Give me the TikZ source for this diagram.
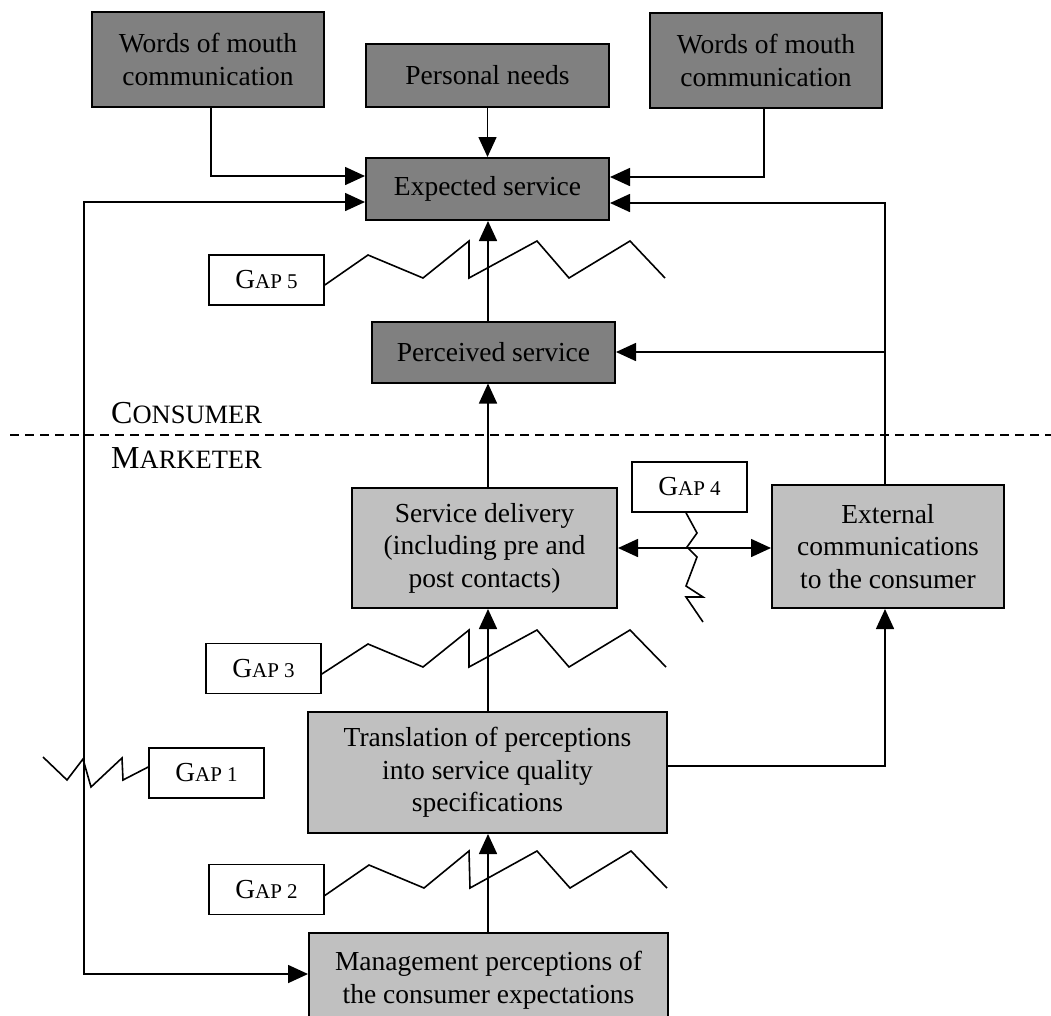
\documentclass[tikz,border=0pt]{standalone}
\usepackage{fontspec}
\setmainfont{Liberation Serif}
\usetikzlibrary{arrows.meta}
\definecolor{darkbox}{RGB}{128,128,128}
\definecolor{lightbox}{RGB}{192,192,192}
\newcommand{\gaplabel}[1]{{\fontsize{27.5}{30}\selectfont G}{\fontsize{21}{24}\selectfont AP #1}}
\newcommand{\bigsc}[2]{{\fontsize{32}{34}\selectfont #1}{\fontsize{26.5}{30}\selectfont #2}}
\begin{document}
\begin{tikzpicture}[x=1pt,y=-1pt,
 box/.style={draw, line width=2pt, align=center, inner sep=2pt, font=\fontsize{27.5}{32.5}\selectfont},
 dbox/.style={box, fill=darkbox},
 lbox/.style={box, fill=lightbox},
 gbox/.style={draw, line width=1.6pt, fill=white, minimum width=115pt, minimum height=50pt, inner sep=0pt},
 conn/.style={line width=1.6pt},
 arr/.style={conn, -{Triangle[length=20pt,width=18pt]}},
 darr/.style={conn, {Triangle[length=20pt,width=18pt]}-{Triangle[length=20pt,width=18pt]}},
 zig/.style={line width=1.6pt, line join=miter},
 sclabel/.style={anchor=base west, inner sep=0pt}
]
\useasboundingbox (0,0) rectangle (1051,1015);
\clip (0,0) rectangle (1051,1015);

% top nodes
\node[dbox, minimum width=232pt, minimum height=95pt] (wom1) at (208,59.5) {Words of mouth\\communication};
\node[dbox, minimum width=243pt, minimum height=63pt] (pn) at (487.5,75.5) {Personal needs};
\node[dbox, minimum width=232pt, minimum height=95pt] (wom2) at (766,60.5) {Words of mouth\\communication};
\node[dbox, minimum width=243pt, minimum height=62pt] (es) at (487.5,189) {Expected service};
\node[dbox, minimum width=243pt, minimum height=61pt] (ps) at (493.5,352) {Perceived service};

% lower nodes
\node[lbox, minimum width=265pt, minimum height=120pt] (sd) at (484.5,548) {Service delivery\\(including pre and\\post contacts)};
\node[lbox, minimum width=232pt, minimum height=123pt] (ext) at (888,546.5) {External\\communications\\to the consumer};
\node[lbox, minimum width=359pt, minimum height=121pt] (tr) at (487.5,772.5) {Translation of perceptions\\into service quality\\specifications};
\node[lbox, minimum width=359pt, minimum height=94pt] (mp) at (488.5,980) {Management perceptions of\\the consumer expectations};

% gap labels
\node[gbox] (g5) at (266.5,280) {\gaplabel{5}};
\node[gbox] (g4) at (689.5,487) {\gaplabel{4}};
\node[gbox] (g3) at (263.5,668.5) {\gaplabel{3}};
\node[gbox] (g1) at (206.5,773) {\gaplabel{1}};
\node[gbox] (g2) at (266.5,889.5) {\gaplabel{2}};

% consumer / marketer
\node[sclabel] (cons) at (111,423) {\bigsc{C}{ONSUMER}};
\node[sclabel] (mark) at (111,468) {\bigsc{M}{ARKETER}};
\draw[conn, dash pattern=on 9pt off 6pt] (10,435) -- (1051,435);

% helper coordinates
\coordinate (cx) at (488,0);
\coordinate (rx) at ([xshift=-3pt]ext.north);

% connectors
\draw[arr] (pn.south) -- (es.north);
\draw[arr] ([xshift=3pt]wom1.south) |- ([yshift=13pt]es.west);
\draw[arr] ([xshift=-2pt]wom2.south) |- ([yshift=12pt]es.east);
\draw[darr] ([yshift=-13pt]es.west) -| (84,974) -- ([yshift=6pt]mp.west);
\draw[arr] (rx) |- ([yshift=-14pt]es.east);
\draw[arr] (rx |- ps.east) -- (ps.east);
\draw[arr] ([yshift=6.5pt]tr.east) -| (rx |- ext.south);
\draw[darr] (sd.east) -- (sd.east -| ext.west);
\draw[arr] (cx |- ps.north) -- (cx |- es.south);
\draw[arr] (cx |- sd.north) -- (cx |- ps.south);
\draw[arr] (cx |- tr.north) -- (cx |- sd.south);
\draw[arr] (cx |- mp.north) -- (cx |- tr.south);

% zigzags
\draw[zig] ([yshift=-5pt]g5.east) -- (368,255) -- (423,278) -- (469,241) -- (469,278) -- (537,241) -- (569,278) -- (630,241) -- (665,278);
\draw[zig] ([yshift=-5.5pt]g3.east) -- (368,644) -- (423,667) -- (469,630) -- (469,667) -- (537,630) -- (569,667) -- (630,630) -- (666,667);
\draw[zig] ([yshift=-6pt]g2.east) -- (369,865) -- (424,888) -- (469,851) -- (470,888) -- (537,851) -- (570,888) -- (631,851) -- (667,888);
\draw[zig] ([xshift=-3.5pt]g4.south) -- (697,533) -- (687,547) -- (697,557) -- (686,586) -- (703,597) -- (686,597) -- (703,622);
\draw[zig] ([yshift=6pt]g1.west) -- (123,780) -- (122,758) -- (91,787) -- (83,759) -- (67,780) -- (43,757);
\end{tikzpicture}
\end{document}
